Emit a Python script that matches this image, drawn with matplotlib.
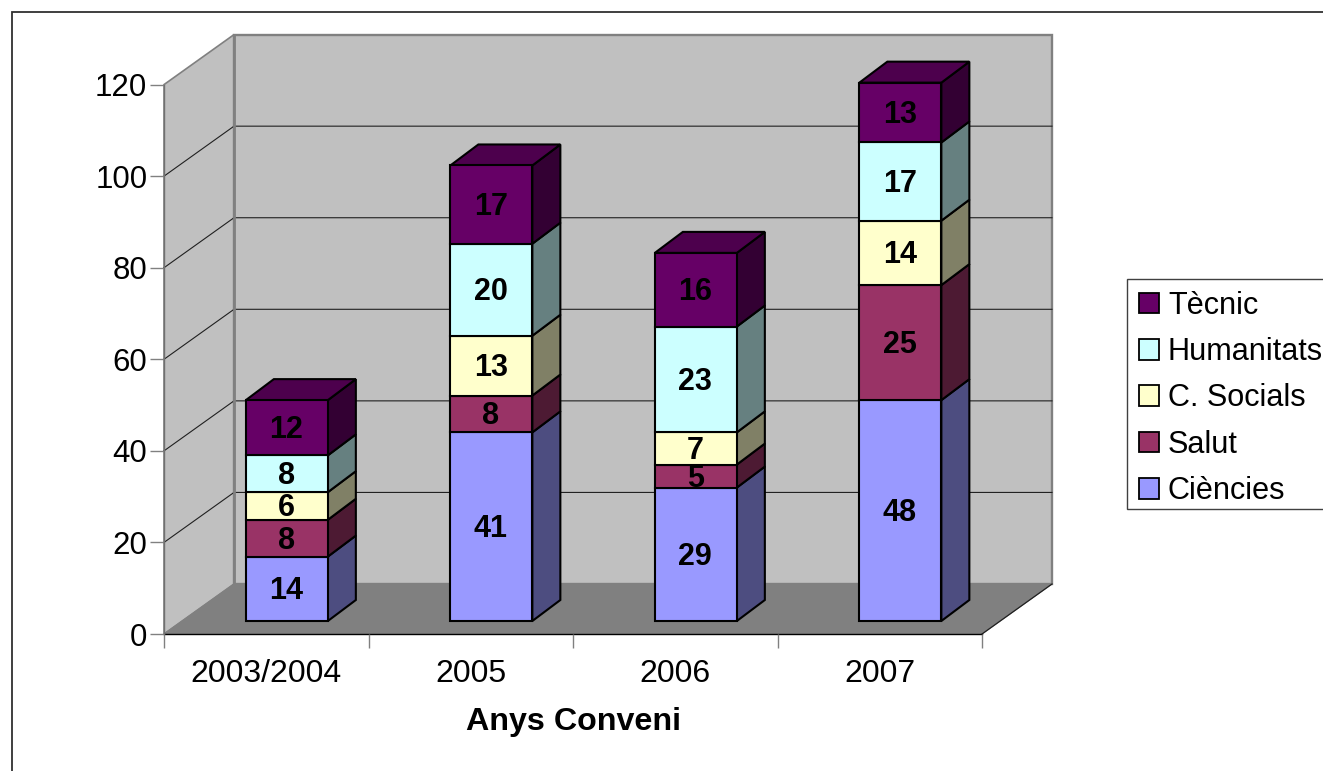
import numpy as np
import matplotlib
matplotlib.use('Agg')
import matplotlib.pyplot as plt
from matplotlib.colors import to_rgb
from matplotlib.patches import Patch, Polygon, Rectangle

plt.rcParams['font.family'] = ['Liberation Sans', 'DejaVu Sans']

years = ['2003/2004', '2005', '2006', '2007']
series = ['Ciències', 'Salut', 'C. Socials', 'Humanitats', 'Tècnic']
ciencies = [14, 41, 29, 48]
salut = [8, 8, 5, 25]
socials = [6, 13, 7, 14]
humanitats = [8, 20, 23, 17]
tecnic = [12, 17, 16, 13]
yticks = [0, 20, 40, 60, 80, 100, 120]
colors = ['#9999FF', '#993366', '#FFFFCC', '#CCFFFF', '#660066']

W, H = 1323, 771
# pixels per unit on the front plane
px_x = 818 / 4
px_y = 549.4 / 120
# depth of the box, and of each bar, in data units
depth_x, depth_y = 70 / px_x, 50 / px_y
bar_dx, bar_dy = 28 / px_x, 21 / px_y
bar_w = 82 / px_x
bar_shift = 20.6 / px_x
bar_base = 13 / px_y
# the bars sit further forward than the axis, so they come out slightly taller
bar_scale = 1.005


def shade(color, k):
    return tuple(c * k for c in to_rgb(color))


def poly(ax, pts, face, edge='black', lw=1.5, z=2):
    ax.add_patch(Polygon(pts, closed=True, facecolor=face, edgecolor=edge, linewidth=lw,
                         joinstyle='miter', clip_on=False, zorder=z))


def draw_box(ax):
    poly(ax, [(0, 0), (depth_x, depth_y), (depth_x, 120 + depth_y), (0, 120)], '#C0C0C0', '#808080', 1.2, 1)
    poly(ax, [(depth_x, depth_y), (4 + depth_x, depth_y), (4 + depth_x, 120 + depth_y), (depth_x, 120 + depth_y)],
         '#C0C0C0', '#808080', 1.7, 1)
    poly(ax, [(0, 0), (4, 0), (4 + depth_x, depth_y), (depth_x, depth_y)], '#808080', '#808080', 0.8, 1.1)
    for t in yticks[1:-1]:
        ax.plot([0, depth_x, 4 + depth_x], [t, t + depth_y, t + depth_y], color='#202020', lw=0.8,
                clip_on=False, zorder=1.2)
    ax.plot([depth_x, depth_x], [depth_y, 120 + depth_y], color='#808080', lw=2, clip_on=False, zorder=1.3)
    ax.plot([4, 4 + depth_x], [0, depth_y], color='#202020', lw=0.9, clip_on=False, zorder=1.4)


fig = plt.figure(figsize=(W / 100, H / 100), dpi=100, facecolor='white')
fig.add_artist(Rectangle((12 / W, -0.05), 1.1, 1.05 - 12.5 / H, transform=fig.transFigure, fill=False,
                         edgecolor='#303030', linewidth=1.3))

ax = fig.add_axes([164 / W, (H - 634) / H, 818 / W, 549.4 / H])
ax.set_xlim(0, 4)
ax.set_ylim(0, 120)
ax.patch.set_visible(False)
for s in ['top', 'right']:
    ax.spines[s].set_visible(False)
ax.spines['left'].set_color('#707070')
ax.spines['left'].set_linewidth(1)
ax.spines['bottom'].set_color('black')
ax.spines['bottom'].set_linewidth(1)
ax.spines['bottom'].set_zorder(1.5)

draw_box(ax)

values = np.array([ciencies, salut, socials, humanitats, tecnic])
bottoms = np.zeros(len(years))
for j, (vals, col) in enumerate(zip(values, colors)):
    for i, v in enumerate(vals):
        x0 = i + 0.5 + bar_shift - bar_w / 2
        x1 = x0 + bar_w
        y0 = bottoms[i] * bar_scale + bar_base
        y1 = y0 + v * bar_scale
        z = 3 + i + j * 0.1
        poly(ax, [(x1, y0), (x1 + bar_dx, y0 + bar_dy), (x1 + bar_dx, y1 + bar_dy), (x1, y1)], shade(col, 0.5), z=z)
        if j == len(values) - 1:
            poly(ax, [(x0, y1), (x1, y1), (x1 + bar_dx, y1 + bar_dy), (x0 + bar_dx, y1 + bar_dy)],
                 shade(col, 0.75), z=z)
        poly(ax, [(x0, y0), (x1, y0), (x1, y1), (x0, y1)], col, z=z)
        ax.text((x0 + x1) / 2 - 0.5 / px_x, (y0 + y1) / 2 - 2.5 / px_y, str(v), ha='center', va='center', fontsize=22,
                fontweight='bold', color='black', zorder=z + 0.05, clip_on=False)
    bottoms += vals

ax.set_yticks(yticks)
ax.tick_params(axis='y', length=10, width=1, color='#808080', labelsize=22.5, pad=2, labelcolor='black')
ax.yaxis.get_major_ticks()[0].tick1line.set_color('black')
ax.set_xticks(range(5))
ax.set_xticklabels([])
ax.set_xticks(np.arange(len(years)) + 0.5, labels=years, minor=True)
ax.tick_params(axis='x', which='major', length=10, width=1, color='#808080')
ax.tick_params(axis='x', which='minor', length=0, labelsize=23, pad=18, labelcolor='black')
ax.set_xlabel('Anys Conveni', fontsize=23.2, fontweight='bold', labelpad=13)

fig.add_artist(Rectangle((1127 / W, 1 - 509 / H), 0.2, 230 / H, transform=fig.transFigure, facecolor='white',
                         edgecolor='#404040', linewidth=1))
handles = [Patch(facecolor=c, edgecolor='black', linewidth=1.3) for c in colors[::-1]]
leg = fig.legend(handles, series[::-1], loc='upper left', bbox_to_anchor=(1128 / W, 1 - 280 / H),
                 borderaxespad=0, fontsize=22.1, frameon=False,
                 handlelength=0.65, handleheight=0.65, handletextpad=0.3,
                 borderpad=0.35, labelspacing=0.533)

plt.savefig('out.png', dpi=100)
plt.close()
